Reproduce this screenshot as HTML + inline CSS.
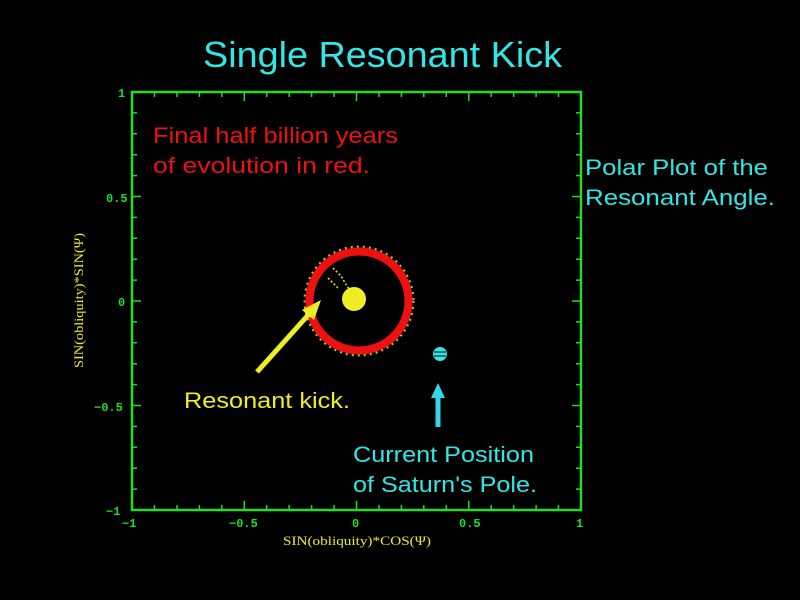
<!DOCTYPE html>
<html><head><style>html,body{margin:0;padding:0;background:#000;}svg{display:block;}</style></head>
<body>
<svg width="800" height="600" viewBox="0 0 800 600" xmlns="http://www.w3.org/2000/svg" font-family="Liberation Sans, sans-serif">
<rect width="800" height="600" fill="#000"/>
<text x="203" y="67" font-size="36" fill="#33e6e6" textLength="359" lengthAdjust="spacingAndGlyphs">Single Resonant Kick</text>
<g id="ticks" stroke="#22dd22" stroke-width="1.5"></g>
<rect x="132" y="92" width="449" height="418" fill="none" stroke="#22dd22" stroke-width="2.5"/>
<g stroke="#22dd22" stroke-width="1.5">
<!-- x ticks -->
<path d="M154.5 510v-5M177 510v-5M199.4 510v-5M221.8 510v-5M244.3 510v-9M266.7 510v-5M289.2 510v-5M311.6 510v-5M334.1 510v-5M356.5 510v-9M379 510v-5M401.4 510v-5M423.8 510v-5M446.3 510v-5M468.8 510v-9M491.2 510v-5M513.6 510v-5M536.1 510v-5M558.5 510v-5
M154.5 92v5M177 92v5M199.4 92v5M221.8 92v5M244.3 92v9M266.7 92v5M289.2 92v5M311.6 92v5M334.1 92v5M356.5 92v9M379 92v5M401.4 92v5M423.8 92v5M446.3 92v5M468.8 92v9M491.2 92v5M513.6 92v5M536.1 92v5M558.5 92v5"/>
<path d="M132 112.9h5M132 133.8h5M132 154.7h5M132 175.6h5M132 196.5h9M132 217.4h5M132 238.3h5M132 259.2h5M132 280.1h5M132 301h9M132 321.9h5M132 342.8h5M132 363.7h5M132 384.6h5M132 405.5h9M132 426.4h5M132 447.3h5M132 468.2h5M132 489.1h5
M581 112.9h-5M581 133.8h-5M581 154.7h-5M581 175.6h-5M581 196.5h-9M581 217.4h-5M581 238.3h-5M581 259.2h-5M581 280.1h-5M581 301h-9M581 321.9h-5M581 342.8h-5M581 363.7h-5M581 384.6h-5M581 405.5h-9M581 426.4h-5M581 447.3h-5M581 468.2h-5M581 489.1h-5"/>
</g>
<g font-family="Liberation Mono, monospace" font-size="12" fill="#22dd22" font-weight="bold">
<text x="118" y="97">1</text>
<text x="106" y="202">0.5</text>
<text x="118" y="306">0</text>
<text x="94" y="411">−0.5</text>
<text x="106" y="515">−1</text>
<text x="122" y="527">−1</text>
<text x="229" y="527">−0.5</text>
<text x="352" y="527">0</text>
<text x="459" y="527">0.5</text>
<text x="576" y="527">1</text>
</g>
<text x="283" y="545" font-family="Liberation Serif, serif" font-size="13" fill="#eeee22" textLength="148" lengthAdjust="spacingAndGlyphs">SIN(obliquity)*COS(Ψ)</text>
<text transform="translate(83,368) rotate(-90)" font-family="Liberation Serif, serif" font-size="13" fill="#eeee22" textLength="135" lengthAdjust="spacingAndGlyphs">SIN(obliquity)*SIN(Ψ)</text>
<g font-size="22">
<text x="153" y="143" fill="#ee1111" textLength="245" lengthAdjust="spacingAndGlyphs">Final half billion years</text>
<text x="153" y="173" fill="#ee1111" textLength="217" lengthAdjust="spacingAndGlyphs">of evolution in red.</text>
<text x="585" y="175" fill="#33e6e6" textLength="183" lengthAdjust="spacingAndGlyphs">Polar Plot of the</text>
<text x="585" y="205" fill="#33e6e6" textLength="190" lengthAdjust="spacingAndGlyphs">Resonant Angle.</text>
<text x="184" y="408" fill="#eeee22" textLength="166" lengthAdjust="spacingAndGlyphs">Resonant kick.</text>
<text x="353" y="462" fill="#33e6e6" textLength="181" lengthAdjust="spacingAndGlyphs">Current Position</text>
<text x="353" y="492" fill="#33e6e6" textLength="184" lengthAdjust="spacingAndGlyphs">of Saturn's Pole.</text>
</g>
<!-- scatter -->
<circle cx="359" cy="301" r="54" fill="none" stroke="#eeee22" stroke-width="3" stroke-dasharray="2 4" opacity="0.8"/>
<circle cx="359" cy="301" r="49.5" fill="none" stroke="#ee1111" stroke-width="8"/>
<circle cx="354" cy="299" r="12" fill="#eeee22"/>
<path d="M333 268l8 8l6 10l6 8M328 278l10 10" stroke="#eeee22" stroke-width="1.5" stroke-dasharray="2 2" fill="none"/>
<circle cx="440" cy="354" r="7" fill="#33e6e6"/>
<path d="M434 352h12M434 356h12" stroke="#000" stroke-width="1"/>
<!-- arrows -->
<line x1="257" y1="372" x2="310" y2="313" stroke="#eeee22" stroke-width="5"/>
<polygon points="321,300 302,310 314,320" fill="#eeee22"/>
<line x1="438" y1="427" x2="438" y2="396" stroke="#33d6e6" stroke-width="5"/>
<polygon points="438,383 431,398 445,398" fill="#33d6e6"/>
</svg>
</body></html>
